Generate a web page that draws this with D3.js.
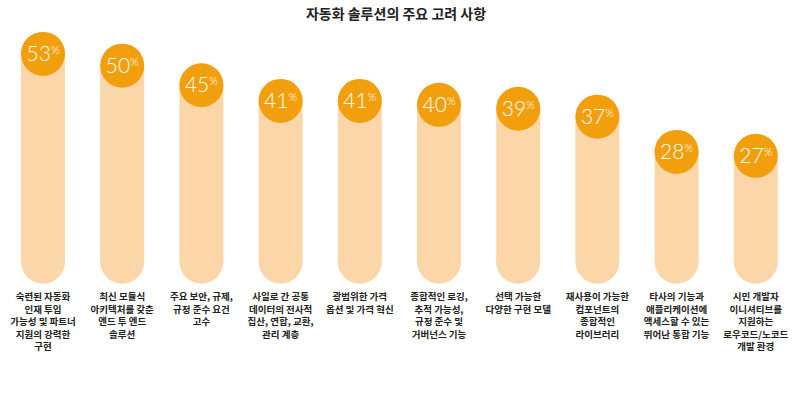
<!DOCTYPE html>
<html>
<head>
<meta charset="utf-8">
<script src="https://cdn.jsdelivr.net/npm/d3@7"></script>
<style>
    body { margin: 0; background: #fff; }
    svg { display: block; }
</style>
</head>
<body>
<svg id="chart"></svg>
<script>
const chartTitle = "자동화 솔루션의 주요 고려 사항";

// category labels, already broken into lines as in the picture
const categories = [
    ["숙련된 자동화", "인재 투입", "가능성 및 파트너", "지원의 강력한", "구현"],
    ["최신 모듈식", "아키텍처를 갖춘", "엔드 투 엔드", "솔루션"],
    ["주요 보안, 규제,", "규정 준수 요건", "고수"],
    ["사일로 간 공통", "데이터의 전사적", "집산, 연합, 교환,", "관리 계층"],
    ["광범위한 가격", "옵션 및 가격 혁신"],
    ["종합적인 로깅,", "추적 가능성,", "규정 준수 및", "거버넌스 기능"],
    ["선택 가능한", "다양한 구현 모델"],
    ["재사용이 가능한", "컴포넌트의", "종합적인", "라이브러리"],
    ["타사의 기능과", "애플리케이션에", "액세스할 수 있는", "뛰어난 통합 기능"],
    ["시민 개발자", "이니셔티브를", "지원하는", "로우코드/노코드", "개발 환경"]
];

const values = [53, 50, 45, 41, 41, 40, 39, 37, 28, 27];

const width = 800;
const height = 398;
const r = 22;

const svg = d3.select("#chart")
    .attr("width", width)
    .attr("height", height);

svg.append("text")
    .attr("x", 396)
    .attr("y", 19)
    .attr("text-anchor", "middle")
    .attr("font-family", "'Noto Sans CJK KR', sans-serif")
    .attr("font-weight", 700)
    .attr("font-size", "14px")
    .attr("fill", "#222")
    .text(chartTitle);

const x = d3.scaleBand()
    .domain(d3.range(values.length))
    .range([3.4, 795.4]);

const y = d3.scaleLinear()
    .domain([0, 53])
    .range([261.7, 53.9]);

const cx = i => x(i) + x.bandwidth() / 2;

const item = svg.append("g")
    .selectAll("g")
    .data(values)
    .enter().append("g");

// pale pill behind each circle
item.append("rect")
    .attr("x", (d, i) => cx(i) - r)
    .attr("y", d => y(d) - r)
    .attr("width", r * 2)
    .attr("height", d => y(0) - y(d) + r * 2)
    .attr("rx", r)
    .attr("ry", r)
    .attr("fill", "#FBD6A8");

item.append("circle")
    .attr("cx", (d, i) => cx(i))
    .attr("cy", d => y(d))
    .attr("r", r)
    .attr("fill", "#F29F0D");

const pct = item.append("text")
    .attr("x", (d, i) => cx(i))
    .attr("y", d => y(d) + 7)
    .attr("text-anchor", "middle")
    .attr("font-family", "Lato, 'Open Sans', sans-serif")
    .attr("font-weight", 300)
    .attr("fill", "#fff");

pct.append("tspan")
    .attr("font-size", "21px")
    .text(d => d);

pct.append("tspan")
    .attr("font-size", "11px")
    .attr("dy", -7)
    .text("%");

// category labels under the bars
const label = svg.append("g")
    .selectAll("text")
    .data(categories)
    .enter().append("text")
    .attr("text-anchor", "middle")
    .attr("font-family", "'Noto Sans CJK KR', sans-serif")
    .attr("font-weight", 700)
    .attr("font-size", "9.5px")
    .attr("fill", "#222");

label.selectAll("tspan")
    .data((d, i) => d.map(line => ({ line: line, i: i })))
    .enter().append("tspan")
    .attr("x", d => cx(d.i))
    .attr("y", (d, j) => 300 + j * 12.5)
    .text(d => d.line);
</script>
</body>
</html>
